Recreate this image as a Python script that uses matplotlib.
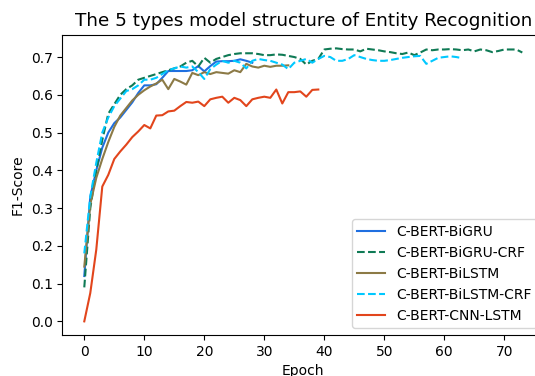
import matplotlib
matplotlib.use("Agg")
import matplotlib.pyplot as plt

# F1-score per epoch
bigru = [0.12, 0.33, 0.40, 0.46, 0.50, 0.525, 0.54, 0.56, 0.58, 0.605,
         0.625, 0.625, 0.628, 0.645, 0.663, 0.663, 0.663, 0.663, 0.665, 0.676,
         0.662, 0.676, 0.688, 0.689, 0.689, 0.690, 0.694, 0.690, 0.685]

bigru_crf = [0.09, 0.30, 0.40, 0.48, 0.55, 0.575, 0.60, 0.615, 0.625, 0.64,
             0.645, 0.65, 0.655, 0.66, 0.665, 0.67, 0.675, 0.685, 0.69, 0.675,
             0.698, 0.685, 0.695, 0.70, 0.705, 0.708, 0.71, 0.71, 0.71, 0.708,
             0.705, 0.705, 0.707, 0.706, 0.703, 0.70, 0.695, 0.68, 0.69, 0.695,
             0.72, 0.722, 0.723, 0.721, 0.72, 0.72, 0.715, 0.722, 0.72, 0.718,
             0.715, 0.713, 0.71, 0.708, 0.712, 0.705, 0.712, 0.72, 0.718, 0.72,
             0.72, 0.721, 0.72, 0.718, 0.72, 0.715, 0.72, 0.718, 0.713, 0.716,
             0.72, 0.72, 0.72, 0.712]

bilstm = [0.145, 0.31, 0.38, 0.43, 0.475, 0.515, 0.545, 0.565, 0.585, 0.60,
          0.612, 0.622, 0.63, 0.64, 0.615, 0.642, 0.635, 0.627, 0.658, 0.652,
          0.66, 0.655, 0.66, 0.658, 0.656, 0.665, 0.66, 0.682, 0.675, 0.672,
          0.677, 0.674, 0.677, 0.677, 0.678]

bilstm_crf = [0.18, 0.33, 0.42, 0.50, 0.54, 0.57, 0.59, 0.61, 0.615, 0.625,
              0.64, 0.64, 0.645, 0.655, 0.665, 0.67, 0.675, 0.672, 0.675, 0.66,
              0.642, 0.668, 0.68, 0.69, 0.685, 0.69, 0.685, 0.67, 0.69, 0.695,
              0.692, 0.69, 0.685, 0.68, 0.668, 0.685, 0.69, 0.695, 0.685, 0.695,
              0.703, 0.70, 0.69, 0.69, 0.695, 0.705, 0.70, 0.695, 0.692, 0.69,
              0.69, 0.692, 0.695, 0.698, 0.70, 0.702, 0.703, 0.682, 0.69, 0.698,
              0.70, 0.702, 0.70, 0.697]

cnn_lstm = [0.0, 0.075, 0.19, 0.357, 0.388, 0.43, 0.45, 0.468, 0.488, 0.503,
            0.52, 0.511, 0.545, 0.546, 0.556, 0.558, 0.57, 0.581, 0.579, 0.582,
            0.57, 0.588, 0.592, 0.595, 0.579, 0.592, 0.586, 0.57, 0.588, 0.592,
            0.595, 0.592, 0.614, 0.577, 0.607, 0.607, 0.609, 0.595, 0.613, 0.614]

series = [
    ("C-BERT-BiGRU", bigru, "#1f6fe0", "-"),
    ("C-BERT-BiGRU-CRF", bigru_crf, "#0f7a55", "--"),
    ("C-BERT-BiLSTM", bilstm, "#8c7a46", "-"),
    ("C-BERT-BiLSTM-CRF", bilstm_crf, "#00c8ff", "--"),
    ("C-BERT-CNN-LSTM", cnn_lstm, "#e2451c", "-"),
]

fig = plt.figure(figsize=(5.35, 3.76), dpi=100)
# the original figure was cropped on the right, so the axes run past the edge
ax = fig.add_axes([0.1166, 0.109, 0.9006, 0.7987])

for name, vals, color, ls in series:
    ax.plot(range(len(vals)), vals, color=color, linestyle=ls, linewidth=1.5, label=name)

ax.set_title("The 5 types model structure of Entity Recognition", fontsize=13.2)
ax.set_xlabel("Epoch")
ax.set_ylabel("F1-Score")
ax.set_xticks(range(0, 71, 10))
ax.legend(loc="lower right")

fig.savefig("out.png", dpi=100)
